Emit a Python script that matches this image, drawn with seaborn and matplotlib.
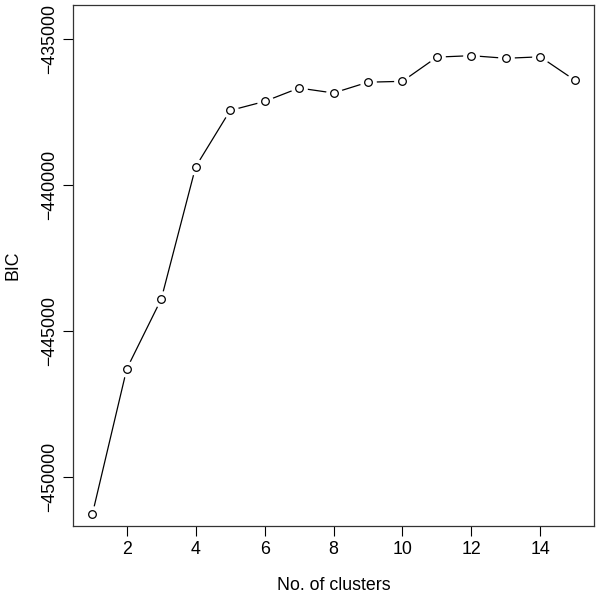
import matplotlib
matplotlib.use("Agg")
import matplotlib.pyplot as plt
import seaborn as sns
import pandas as pd

# BIC per number of clusters
clusters = [1, 2, 3, 4, 5, 6, 7, 8, 9, 10, 11, 12, 13, 14, 15]
bic = [-451290, -446300, -443910, -439370, -437440, -437130, -436670,
       -436840, -436470, -436440, -435610, -435560, -435650, -435600, -436400]
x_ticks = [2, 4, 6, 8, 10, 12, 14]
y_ticks = [-450000, -445000, -440000, -435000]

df = pd.DataFrame({"clusters": clusters, "BIC": bic})

sns.set_theme(style="white")
plt.rcParams["font.family"] = ["Liberation Sans", "DejaVu Sans"]
plt.rcParams["text.color"] = "black"
plt.rcParams["axes.labelcolor"] = "black"
plt.rcParams["xtick.color"] = "black"
plt.rcParams["ytick.color"] = "black"

fig = plt.figure(figsize=(6, 6), dpi=100)
ax = fig.add_axes([0.1217, 0.1238, 0.8683, 0.8678])

# type="b" look: line, white masks around points, then open circles
sns.lineplot(data=df, x="clusters", y="BIC", color="black", linewidth=0.9, ax=ax)
ax.plot(df["clusters"], df["BIC"], linestyle="none", marker="o", markersize=11,
        markerfacecolor="white", markeredgecolor="white")
ax.plot(df["clusters"], df["BIC"], linestyle="none", marker="o", markersize=5.5,
        markerfacecolor="white", markeredgecolor="black", markeredgewidth=0.9)

ax.set_xlim(0.44, 15.56)
ax.set_ylim(-451680, -433824)
ax.set_xticks(x_ticks)
ax.set_yticks(y_ticks)
ax.set_yticklabels([str(v).replace("-", "\u2212") for v in y_ticks],
                   rotation=90, va="center")
ax.tick_params(axis="both", direction="out", length=7, width=0.8,
               labelsize=12.8, pad=4, left=True, bottom=True)
ax.set_xlabel("No. of clusters", fontsize=12.8, labelpad=14)
ax.set_ylabel("BIC", fontsize=12.8, labelpad=14)

for s in ax.spines.values():
    s.set_color("#333333")
    s.set_linewidth(0.9)

fig.savefig("out.png", dpi=100)
